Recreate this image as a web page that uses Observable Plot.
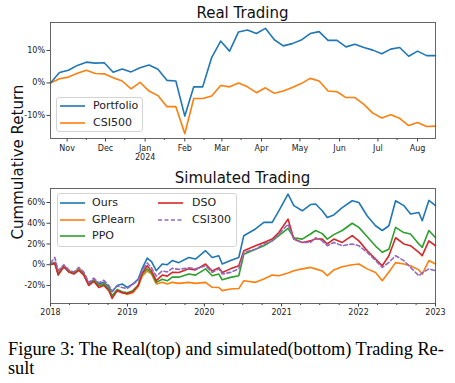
<!DOCTYPE html>
<html><head><meta charset="utf-8">
<script src="https://cdn.jsdelivr.net/npm/d3@7"></script>
<script src="https://cdn.jsdelivr.net/npm/@observablehq/plot@0.6"></script>
<style>
body{margin:0;background:#fff;}
#root{position:relative;width:455px;height:383px;overflow:hidden;font-family:"DejaVu Sans",sans-serif;color:#222;background:#fff;}
.title{position:absolute;font-size:15px;line-height:15px;white-space:nowrap;transform:translateX(-50%);color:#111;}
.ylab{position:absolute;font-size:15px;line-height:15px;white-space:nowrap;transform:translate(-50%,-50%) rotate(-90deg);color:#111;}
.caption{position:absolute;left:8px;top:340px;font-family:"Liberation Serif",serif;font-size:18.3px;line-height:19px;white-space:nowrap;color:#000;}
.lgbox{position:absolute;border:1px solid #d4d4d4;border-radius:3px;background:rgba(255,255,255,0.85);box-sizing:border-box;}
.lgtxt{position:absolute;font-size:11px;line-height:13px;white-space:nowrap;color:#222;}
svg.plot{position:absolute;left:0;}
</style></head>
<body><div id="root"></div>
<script>
// ---------- Real trading (weekly) ----------
const topDates = ["2023-10-19","2023-10-26","2023-11-02","2023-11-09","2023-11-16","2023-11-23","2023-11-30",
"2023-12-07","2023-12-14","2023-12-21","2023-12-28","2024-01-04","2024-01-11","2024-01-18","2024-01-25",
"2024-02-01","2024-02-08","2024-02-15","2024-02-22","2024-02-29","2024-03-07","2024-03-14","2024-03-21","2024-03-28",
"2024-04-04","2024-04-11","2024-04-18","2024-04-25","2024-05-02","2024-05-09","2024-05-16","2024-05-23","2024-05-30",
"2024-06-06","2024-06-13","2024-06-20","2024-06-27","2024-07-04","2024-07-11","2024-07-18","2024-07-25",
"2024-08-01","2024-08-08","2024-08-15"];
const portfolio = [0,3.2,3.9,5.4,6.4,6.1,6.2,3.3,4.3,3.4,4.7,5.5,4.2,0.8,0.6,-10.2,-1.2,-1.2,7.8,12.9,9.8,15.7,16.3,15.2,16.8,
13.3,11.4,12.1,13.2,15.2,15.8,13.1,13.1,11.1,11.9,10.9,10.1,9.0,10.4,10.9,8.2,9.8,8.4,8.4];
const csi500 = [0,1.3,1.8,3.0,3.9,2.9,2.8,1.6,0.6,-1.8,0.2,-2.5,-3.9,-7.3,-7.3,-15.6,-4.8,-4.8,-4.0,-0.8,-1.2,0,-1.2,-3.0,-1.5,
-3.2,-2.5,-1.4,-0.2,1.4,0.6,-2.5,-2.7,-4.5,-4.5,-6.6,-9.3,-10.8,-9.8,-10.9,-13.1,-12.2,-13.4,-13.3];
const topYTicks = [-10,0,10];

// ---------- Simulated trading (years after 2018-01-01) ----------
const simT = [0,0.056,0.100,0.173,0.238,0.303,0.368,0.432,0.497,0.562,0.627,0.692,0.757,0.801,0.866,0.931,0.996,
1.069,1.139,1.191,1.256,1.312,1.373,1.451,1.516,1.581,1.666,1.796,1.883,
2.013,2.100,2.186,2.230,2.338,2.445,2.510,2.662,2.770,2.879,2.965,
3.084,3.160,3.269,3.377,3.442,3.529,3.594,3.679,3.788,3.918,
4.004,4.113,4.221,4.308,4.394,4.481,4.588,4.675,4.783,4.827,4.913,5.000];
const ours = [0.7,2.2,-8,-1,-6,-8,-4,-9,-18.6,-14.5,-18.6,-17,-21.8,-26,-20,-18.6,-21.8,-18.6,-13.8,-3.5,6.4,2.9,-5.8,0.7,0,4,2,
7,5.5,13.5,7,8.7,0.7,4,7,28,34.5,40.8,40.8,52,68,57,52,58,
58.5,52,45.6,48,55,61.7,60,47,37.6,33,37.6,61.7,57,48.9,50.4,42.4,62,57];
const gplearn = [0.5,1.5,-8,-1,-6,-8,-4,-9,-19.5,-15.5,-20,-18.5,-23.5,-30,-25,-27,-28.5,-27,-21,-11,-6,-9,-18.6,-17,-18.6,-17,-18,
-17,-18,-17,-21.8,-22,-25,-23.4,-23,-15.4,-17,-13.8,-10,-10.6,-8,-5.8,-4,-2.6,
-4,-6,-10.6,-5,-2,0,0.7,-4,-7.4,-15.4,-7,2,0.7,-1,-5,-9,4,0.7];
const ppo = [0.5,1.5,-9,-2,-7,-8,-5,-9,-19.5,-15.5,-20,-18.5,-23.5,-30,-24,-26,-27,-25,-19.5,-9,-4,-8,-17,-14,-15.5,-12,-12,
-9,-10,-4,-10.6,-9,-14.5,-12.2,-10.6,10,15,18.3,23,28,35,26,24.7,29.6,
33,30,24.7,29,33,40,36,27,18,12,15,36,31,29.6,20,16.7,33,26];
const dso = [0,1.5,-10,-2,-7,-9,-5.5,-10,-20,-16,-22,-20,-25,-32.5,-25,-27,-28,-26,-20,-8,-1,-6,-15.4,-10,-11,-7.4,-7.5,
-4,-5,0.7,-6,-3,-7.4,-4,-1,13.5,18.3,21.5,24.7,31,44,24.7,21.5,23,
25,24.7,20,24.7,21.5,28,23,13.5,5.5,-1,8.7,26,20,18.3,11.9,8.7,23,18.3];
const csi300 = [1.5,7,-5.5,0,-5,-7,-2.6,-7,-17,-13,-17.5,-15,-20,-25.5,-20.5,-22,-23,-19,-15,-5.5,1.6,-3,-11,-6,-7,-3.5,-4.5,
-3,-4,-1,-7.4,-4,-9,-7.4,-4,11.9,15,20,23,29.6,39,24.7,21.5,21.5,
26,23,18.3,21.5,18.3,20,18.3,11.9,4,-2.6,2.2,8.7,4,-2.6,-10.6,-8,-4,-5.8];
const simYTicks = [-20,0,20,40,60];
const simYears = [2018,2019,2020,2021,2022,2023];

const C = {blue:"#1f77b4",orange:"#ff7f0e",green:"#2ca02c",red:"#d62728",purple:"#9467bd"};
const root = document.getElementById("root");
const axisStyle = {fontFamily:"DejaVu Sans", fontSize:"8px", color:"#222", background:"transparent", overflow:"visible"};
const pct = d => (d < 0 ? "-" + Math.abs(d) : d) + "%";

// ---- top chart ----
const topData = [];
topDates.forEach((d,i)=>{
  topData.push({date:new Date(d+"T00:00Z"), v:portfolio[i], s:"Portfolio"});
  topData.push({date:new Date(d+"T00:00Z"), v:csi500[i], s:"CSI500"});
});
const months = d3.utcMonth.range(new Date("2023-11-01T00:00Z"), new Date("2024-08-02T00:00Z"));
const minorTop = months.slice(0,-1).map(d => d3.utcDay.offset(d,15)).filter(d=>d>=new Date("2023-10-19T00:00Z"));
const mfmt = d3.utcFormat("%b");
const topPlot = Plot.plot({
  width:455, height:165, marginLeft:50, marginRight:20, marginTop:22, marginBottom:27,
  style: axisStyle,
  x:{type:"utc", domain:[new Date("2023-10-19T00:00Z"), new Date("2024-08-15T00:00Z")]},
  y:{domain:[-17.1,18.6]},
  marks:[
    Plot.axisX({ticks:minorTop, tickSize:2, tickFormat:()=>"", label:null, stroke:"#444"}),
    Plot.axisX({ticks:months, tickSize:3.5, tickPadding:2, label:null, fontSize:8, lineHeight:1.15, stroke:"#444",
      tickFormat:d => d.getUTCMonth()===0 ? mfmt(d)+"\n"+d.getUTCFullYear() : mfmt(d)}),
    Plot.axisY({ticks:topYTicks, tickSize:3.5, tickPadding:2, label:null, fontSize:8, tickFormat:pct, stroke:"#444"}),
    Plot.lineY(topData.filter(d=>d.s==="CSI500"), {x:"date", y:"v", stroke:C.orange, strokeWidth:1.6}),
    Plot.lineY(topData.filter(d=>d.s==="Portfolio"), {x:"date", y:"v", stroke:C.blue, strokeWidth:1.6}),
    Plot.frame({stroke:"#555", strokeWidth:0.9})
  ]
});
topPlot.classList.add("plot"); topPlot.style.top="0px"; topPlot.style.position="absolute";
root.appendChild(topPlot);

// ---- bottom chart ----
const t0 = Date.UTC(2018,0,1);
const toDate = t => new Date(t0 + t*365.25*86400000);
const series = [["Ours",ours,C.blue,null],["GPlearn",gplearn,C.orange,null],["PPO",ppo,C.green,null],["DSO",dso,C.red,null],["CSI300",csi300,C.purple,"4,2.5"]];
const yearTicks = simYears.map(y=>new Date(Date.UTC(y,0,1)));
const quarterTicks = d3.utcMonth.every(3).range(new Date(Date.UTC(2018,0,1)), new Date(Date.UTC(2023,0,2)));
const simMarks = [
  Plot.axisX({ticks:quarterTicks, tickSize:2, tickFormat:()=>"", label:null, stroke:"#444"}),
  Plot.axisX({ticks:yearTicks, tickSize:3.5, tickPadding:2, label:null, fontSize:8, tickFormat:d=>String(d.getUTCFullYear()), stroke:"#444"}),
  Plot.axisY({ticks:simYTicks, tickSize:3.5, tickPadding:2, label:null, fontSize:8, tickFormat:pct, stroke:"#444"})
];
series.forEach(([name,vals,color,dash])=>{
  const data = simT.map((t,i)=>({date:toDate(t), v:vals[i]}));
  simMarks.push(Plot.lineY(data, {x:"date", y:"v", stroke:color, strokeWidth:1.6, strokeDasharray:dash||undefined}));
});
simMarks.push(Plot.frame({stroke:"#555", strokeWidth:0.9}));
const botPlot = Plot.plot({
  width:455, height:160, marginLeft:50, marginRight:20, marginTop:23, marginBottom:22,
  style: axisStyle,
  x:{type:"utc", domain:[new Date(Date.UTC(2018,0,1)), new Date(Date.UTC(2023,0,1))]},
  y:{domain:[-37.4,73.5]},
  marks: simMarks
});
botPlot.classList.add("plot"); botPlot.style.top="165px"; botPlot.style.position="absolute";
root.appendChild(botPlot);

// ---- texts ----
function addDiv(cls, text, css){ const d=document.createElement("div"); d.className=cls; d.textContent=text; Object.assign(d.style, css); root.appendChild(d); return d; }
addDiv("title","Real Trading",{left:"242.5px", top:"5.6px"});
addDiv("title","Simulated Trading",{left:"242.5px", top:"171.3px"});
addDiv("ylab","Cummulative Return",{left:"18px", top:"161.5px"});
const cap = document.createElement("div"); cap.className="caption";
cap.innerHTML = "Figure 3: The Real(top) and simulated(bottom) Trading Re-<br>sult";
root.appendChild(cap);

// ---- legends ----
function legendBox(x,y,w,h){ const b=document.createElement("div"); b.className="lgbox"; Object.assign(b.style,{left:x+"px",top:y+"px",width:w+"px",height:h+"px"}); root.appendChild(b); }
function legendItem(x1,x2,y,tx,color,dash,label){
  const ns="http://www.w3.org/2000/svg";
  const s=document.createElementNS(ns,"svg");
  s.setAttribute("width",x2-x1); s.setAttribute("height",6);
  Object.assign(s.style,{position:"absolute",left:x1+"px",top:(y-3)+"px",overflow:"visible"});
  const l=document.createElementNS(ns,"line");
  l.setAttribute("x1",0); l.setAttribute("x2",x2-x1); l.setAttribute("y1",3); l.setAttribute("y2",3);
  l.setAttribute("stroke",color); l.setAttribute("stroke-width",1.6);
  if(dash) l.setAttribute("stroke-dasharray",dash);
  s.appendChild(l); root.appendChild(s);
  addDiv("lgtxt",label,{left:tx+"px", top:(y-7)+"px"});
}
legendBox(56,97,87,35);
legendItem(60,85,106,93,C.blue,null,"Portfolio");
legendItem(60,85,123,93,C.orange,null,"CSI500");
legendBox(57,193,180,54);
legendItem(60,85,203,92,C.blue,null,"Ours");
legendItem(60,85,219.5,92,C.orange,null,"GPlearn");
legendItem(60,85,235.5,92,C.green,null,"PPO");
legendItem(158,183,203,192,C.red,null,"DSO");
legendItem(158,183,219.5,192,C.purple,"4,2.5","CSI300");
</script></body></html>
